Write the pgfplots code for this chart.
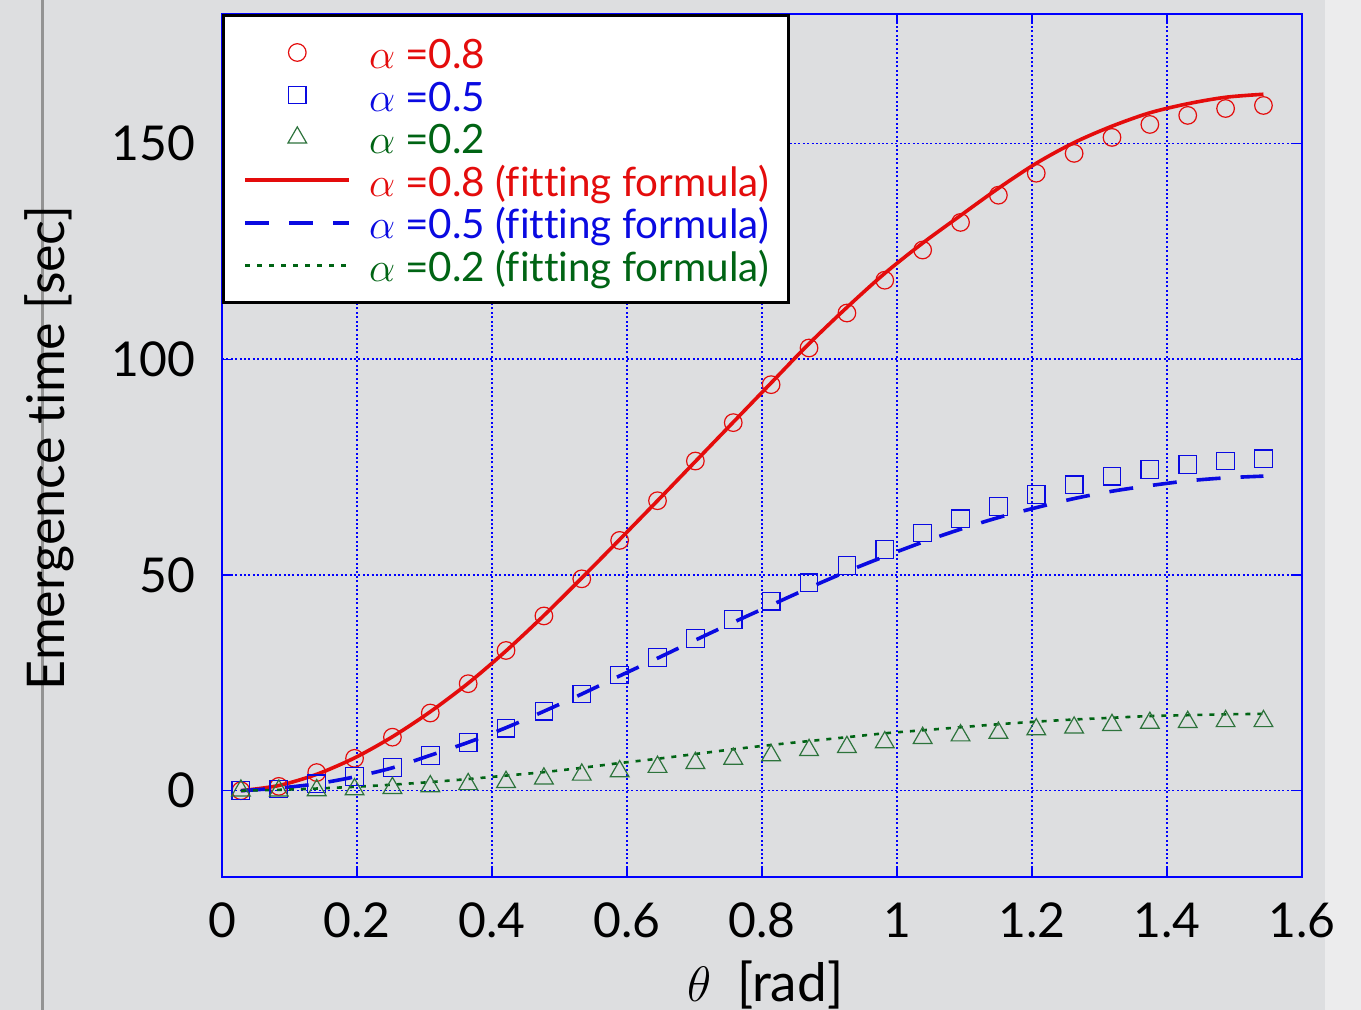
\documentclass[border=0pt]{standalone}
\usepackage{pgfplots}
\pgfplotsset{compat=1.18}
\usepackage{pgfplotstable}
\usepackage{fontspec}
\setmainfont{Lato}[Ligatures=NoCommon]

\definecolor{bgcol}{RGB}{221,222,224}
\definecolor{stripcol}{RGB}{236,236,237}
\definecolor{rcol}{RGB}{228,12,12}
\definecolor{bcol}{RGB}{10,10,225}
\definecolor{gcol}{RGB}{0,100,20}
\definecolor{gmark}{RGB}{45,115,60}

% emergence time [sec] vs theta [rad]; r/b/g = alpha 0.8/0.5/0.2, *f = fitting formula
\pgfplotstableread{
x      r      rf     b     bf    g     gf
0.0280 0.0    0.0    0.0   0.0   0.0   0.0
0.0842 1.0    1.2    0.4   0.6   0.0   0.2
0.1403 4.2    3.8    1.6   1.6   0.1   0.5
0.1964 7.5    7.6    3.3   3.2   0.3   0.9
0.2525 12.4   12.5   5.4   5.3   0.6   1.4
0.3086 18.0   18.3   8.2   8.2   1.0   2.0
0.3647 24.8   24.9   11.2  11.2  1.5   2.7
0.4208 32.5   32.4   14.5  14.6  2.0   3.5
0.4769 40.5   40.6   18.4  18.4  2.8   4.3
0.5330 49.1   49.3   22.4  22.4  3.7   5.3
0.5891 58.0   58.2   26.8  26.6  4.5   6.4
0.6452 67.2   67.2   30.9  30.7  5.5   7.4
0.7013 76.4   76.3   35.3  34.9  6.4   8.5
0.7574 85.3   85.4   39.7  39.0  7.4   9.6
0.8135 94.1   94.5   43.9  43.0  8.2   10.6
0.8697 102.6  103.6  48.2  47.0  9.4   11.5
0.9258 110.7  112.0  52.2  50.8  10.1  12.4
0.9819 118.3  119.9  55.9  54.3  11.2  13.3
1.0380 125.3  126.9  59.7  57.6  12.2  14.0
1.0941 131.7  133.3  63.0  60.6  12.8  14.7
1.1502 138.0  139.6  65.9  63.3  13.4  15.4
1.2063 143.1  145.4  68.6  65.6  14.2  16.0
1.2624 147.7  150.2  70.9  67.7  14.6  16.5
1.3185 151.4  154.0  72.9  69.4  15.2  16.9
1.3746 154.4  157.1  74.4  70.7  15.7  17.3
1.4307 156.5  159.2  75.6  71.8  15.9  17.5
1.4868 158.1  160.7  76.4  72.5  16.1  17.7
1.5429 158.8  161.4  76.9  72.9  16.1  17.8
}\emtime

\newcommand{\lstrut}{\rule[-4pt]{0pt}{21.5pt}}
\pgfplotsset{
    markleg/.style={legend image code/.code={\path[draw=none] (0pt,0pt) -- (52pt,0pt);
        \draw[##1] plot[only marks] coordinates {(26pt,0pt)};}},
    lineleg/.style={legend image code/.code={\draw[##1] (0pt,0pt) -- (52pt,0pt);}},
}

\begin{document}
\begin{tikzpicture}
\useasboundingbox (-111pt,-66.5pt) rectangle (569.5pt,438.5pt);
\fill[bgcol] (-111pt,-66.5pt) rectangle (569.5pt,438.5pt);
\fill[stripcol] (551.5pt,-66.5pt) rectangle (569.5pt,438.5pt);
\draw[gray!85, line width=1.5pt] (-89.5pt,-66.5pt) -- (-89.5pt,438.5pt);
\begin{axis}[
    at={(0,0)}, anchor=south west,
    scale only axis,
    width=540pt, height=431.5pt,
    xmin=0, xmax=1.6, ymin=-20, ymax=180,
    xtick={0,0.2,0.4,0.6,0.8,1,1.2,1.4,1.6},
    ytick={0,50,100,150},
    /pgf/number format/assume math mode=true,
    tick label style={font=\fontsize{24}{28}\selectfont},
    xticklabel style={yshift=-9.5pt},
    yticklabel style={xshift=-10pt},
    xlabel={$\theta$\hspace{13pt}[rad]},
    ylabel={Emergence time [sec]},
    xlabel style={at={(axis description cs:0.503,-0.125)}, anchor=center,
        font=\fontsize{26.5}{30}\selectfont},
    ylabel style={at={(axis description cs:-0.160,0.497)}, anchor=center, rotate=0,
        font=\fontsize{26}{30}\selectfont},
    axis line style={blue, line width=0.6pt},
    tick style={blue, line width=0.6pt},
    major tick length=5pt,
    grid=major,
    grid style={blue, line width=0.8pt, dash pattern=on 1pt off 1.2pt},
    legend cell align=left,
    legend style={at={(0,1)}, anchor=north west, draw=black, line width=1.5pt,
        fill=white, font=\fontsize{20.2}{24}\selectfont,
        inner xsep=10pt, inner ysep=9pt, row sep=2.3pt,
        nodes={inner sep=0pt},
        /tikz/every odd column/.append style={column sep=9pt}},
]
\addplot[only marks, mark=o, mark size=4.4pt, rcol, line width=0.6pt, markleg]
    table[x=x, y=r] {\emtime};
\addlegendentry{\lstrut\textcolor{rcol}{$\alpha$ =0.8}}
\addplot[only marks, mark=square, mark size=4.4pt, bcol, line width=0.6pt, markleg]
    table[x=x, y=b] {\emtime};
\addlegendentry{\lstrut\textcolor{bcol}{$\alpha$ =0.5}}
\addplot[only marks, mark=triangle, mark size=5.4pt, gmark, line width=0.6pt, markleg]
    table[x=x, y=g] {\emtime};
\addlegendentry{\lstrut\textcolor{gcol}{$\alpha$ =0.2}}
\addplot[rcol, line width=1.8pt, no marks, smooth, lineleg] table[x=x, y=rf] {\emtime};
\addlegendentry{\lstrut\textcolor{rcol}{$\alpha$ =0.8 (fitting formula)}}
\addplot[bcol, line width=1.8pt, no marks, smooth, dash pattern=on 12pt off 10pt, lineleg]
    table[x=x, y=bf] {\emtime};
\addlegendentry{\lstrut\textcolor{bcol}{$\alpha$ =0.5 (fitting formula)}}
\addplot[gcol, line width=1.3pt, no marks, smooth, dash pattern=on 2.5pt off 3.5pt, lineleg]
    table[x=x, y=gf] {\emtime};
\addlegendentry{\lstrut\textcolor{gcol}{$\alpha$ =0.2 (fitting formula)}}
\end{axis}
\end{tikzpicture}
\end{document}
